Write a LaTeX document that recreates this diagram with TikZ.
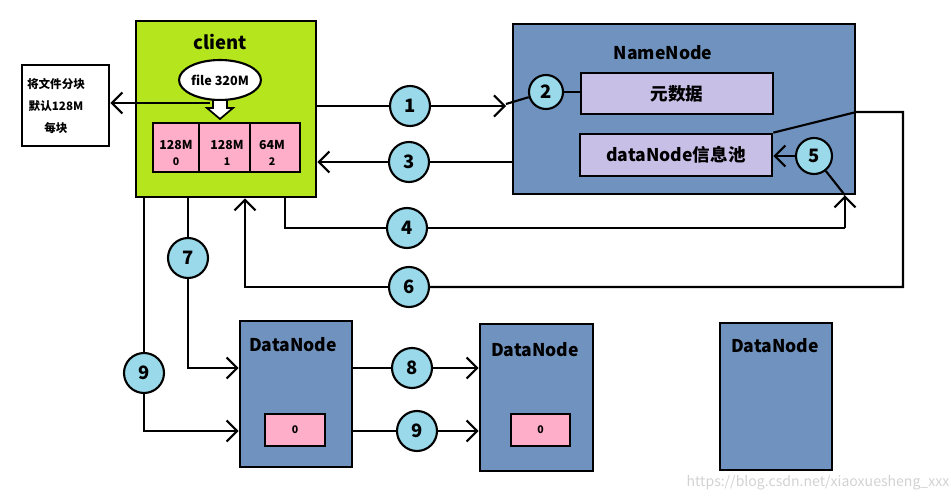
\documentclass[tikz,border=0pt]{standalone}
\usepackage{fontspec}
\setmainfont{Noto Sans CJK SC}
\usepackage{tikz}
\usetikzlibrary{arrows.meta,positioning,calc,shapes.geometric}
\definecolor{clientgreen}{HTML}{B5E61D}
\definecolor{nodeblue}{HTML}{7092BE}
\definecolor{lavender}{HTML}{C8BFE7}
\definecolor{blockpink}{HTML}{FFAEC9}
\definecolor{stepblue}{HTML}{99D9EA}

\begin{document}
\begin{tikzpicture}[x=0.02cm, y=-0.02cm, line width=1.2pt,
    >={Straight Barb[length=6pt,width=12pt]},
    box/.style={draw, line width=1.5pt, inner sep=0pt},
    title/.style={font=\fontsize{10}{12}\selectfont\bfseries},
    block/.style={box, fill=blockpink, minimum height=0.98cm},
    blocktext/.style={align=center, font=\fontsize{7}{9}\selectfont\bfseries},
    num/.style={circle, draw, fill=stepblue, minimum size=0.8cm, inner sep=0pt,
        font=\fontsize{10.5}{12}\selectfont\bfseries}]

    \useasboundingbox (0,0) rectangle (951,500);

    % Client side
    \node[box, fill=clientgreen, minimum width=3.6cm, minimum height=3.52cm] (client) at (226,109) {};
    \node[font=\fontsize{10.5}{12}\selectfont\bfseries] at (220,42) {client};
    \node[box, fill=white, minimum width=1.74cm, minimum height=1.62cm] (note) at (65.5,105.5) {};
    \node[align=center, font=\fontsize{6.6}{12.5}\selectfont\bfseries] (notetext) at (56,106) {将文件分块\\默认128M\\每块};
    \node[ellipse, draw, fill=white, minimum width=1.58cm, minimum height=0.8cm, inner sep=0pt,
        font=\fontsize{7.2}{12}\selectfont\bfseries] (file) at (220,80) {file 320M};
    \coordinate (split) at (210,103);
    \draw[->] (split) -- (note.east |- split);
    \filldraw[fill=white, line width=1pt] (213,100) -- (227,100) -- (227,108) -- (233,108)
        -- (220,119) -- (207,108) -- (213,108) -- cycle;
    \node[block, minimum width=0.92cm] (b0) at (176,147.5) {};
    \node[block, minimum width=1.02cm] (b1) at (224.5,147.5) {};
    \node[block, minimum width=1.0cm] (b2) at (275,147.5) {};
    \node[blocktext] at (176,153) {128M\\\fontsize{6}{8}\selectfont 0};
    \node[blocktext] at (227,153) {128M\\\fontsize{6}{8}\selectfont 1};
    \node[blocktext] at (272,153) {64M\\\fontsize{6}{8}\selectfont 2};

    % NameNode
    \node[box, fill=nodeblue, minimum width=6.84cm, minimum height=3.4cm] (nn) at (684,109) {};
    \node[title] at (663,53) {NameNode};
    \node[box, fill=lavender, minimum width=3.84cm, minimum height=0.82cm, title] (meta) at (677,93.5) {元数据};
    \node[box, fill=lavender, minimum width=3.84cm, minimum height=0.84cm, title] (pool) at (676,155) {dataNode信息池};
    \node[num, minimum size=0.68cm] (c2) at (546,92) {2};
    \node[num, minimum size=0.72cm] (c5) at (814,156) {5};

    % DataNodes
    \node[box, fill=nodeblue, minimum width=2.24cm, minimum height=2.92cm] (dn1) at (296,394) {};
    \node[title] at (293,345) {DataNode};
    \node[box, fill=blockpink, minimum width=1.2cm, minimum height=0.64cm,
        font=\fontsize{6}{8}\selectfont\bfseries] (r1) at (295,430) {0};
    \node[box, fill=nodeblue, minimum width=2.26cm, minimum height=2.94cm] (dn2) at (536.5,397.5) {};
    \node[title] at (535,350) {DataNode};
    \node[box, fill=blockpink, minimum width=1.18cm, minimum height=0.64cm,
        font=\fontsize{6}{8}\selectfont\bfseries] (r2) at (540.5,430) {0};
    \node[box, fill=nodeblue, minimum width=2.24cm, minimum height=2.94cm] (dn3) at (776,396.5) {};
    \node[title] at (775,346) {DataNode};

    % Steps
    \node[num] (c1) at (410,106) {1};
    \node[num] (c3) at (409,162) {3};
    \node[num] (c4) at (407,228) {4};
    \node[num] (c6) at (409,287) {6};
    \node[num] (c7) at (188,258) {7};
    \node[num] (c8) at (412,368) {8};
    \node[num] (c9a) at (144,373) {9};
    \node[num] (c9b) at (417,431) {9};

    % Connectors
    \coordinate (in1) at (506,104);
    \coordinate (up4) at (845,228);
    \coordinate (r6) at (903,112);
    \draw (client.east |- c1) -- (c1);
    \draw[->] (c1) -- (in1 |- c1);
    \draw (in1) -- (c2);
    \draw (c2) -- (meta.west |- c2);
    \draw (nn.west |- c3) -- (c3);
    \draw[->] (c3) -- (client.east |- c3);
    \draw ($(client.south)+(59,0)$) |- (c4);
    \draw (c4) -- (up4);
    \draw[->] (up4) -- (up4 |- nn.south);
    \draw (up4 |- nn.south) -- (c5);
    \draw[->] (c5) -- (pool.east |- c5);
    \draw (pool.north east) -- (nn.east |- r6) -- (r6) |- (c6);
    \draw[->] (c6) -| ($(client.south)+(19,0)$);
    \draw ($(client.south)+(-38,0)$) -- (c7);
    \draw[->] (c7) |- ($(dn1.west)+(0,-26)$);
    \draw ($(client.south)+(-82,0)$) -- (c9a);
    \draw[->] (c9a) |- ($(dn1.west)+(0,37)$);
    \draw ($(dn1.east)+(0,-26)$) -- (c8);
    \draw[->] (c8) -- (dn2.west |- c8);
    \draw (dn1.east |- c9b) -- (c9b);
    \draw[->] (c9b) -- (dn2.west |- c9b);

    \node[text=gray!35, font=\fontsize{8}{10}\selectfont] at (818,483) {https://blog.csdn.net/xiaoxuesheng\_xxx};
\end{tikzpicture}
\end{document}
